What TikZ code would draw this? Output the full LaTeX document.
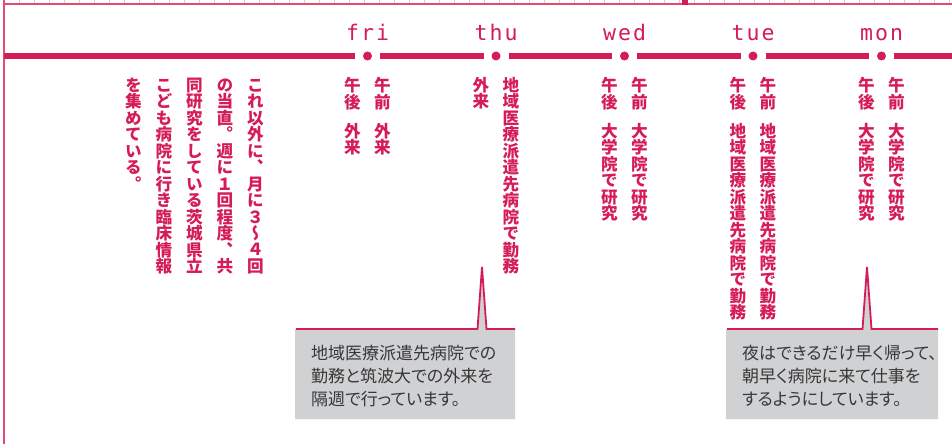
\documentclass[tikz,border=0pt]{standalone}
\usepackage{fontspec}
\newfontfamily\jpv[RawFeature=+vert]{Noto Sans CJK JP}
\newfontfamily\jpp[RawFeature=+palt]{Noto Sans CJK JP}
\newfontfamily\daymono{DejaVu Sans Mono}
\definecolor{accent}{RGB}{214,28,86}
\definecolor{ruler}{RGB}{226,76,114}
\definecolor{tickc}{RGB}{244,192,202}
\definecolor{boxgray}{RGB}{208,209,211}
\definecolor{boxtext}{RGB}{55,55,55}
\ExplSyntaxOn
\dim_new:N \l_vt_pitch_dim
\dim_set:Nn \l_vt_pitch_dim {16.45pt}
\NewDocumentCommand \vcol { m }
  {
    \vbox:n
      {
        \offinterlineskip
        \tl_map_inline:nn {#1}
          {
            \hbox_to_wd:nn { \l_vt_pitch_dim }
              { \hss \vrule~height~0.86\l_vt_pitch_dim~depth~0.14\l_vt_pitch_dim~width~0pt\relax ##1 \hss }
          }
      }
  }
\NewDocumentCommand \mono { m }
  {
    \tl_map_inline:nn {#1} { \hbox_to_wd:nn { 15pt } { \hss ##1 \hss } }
  }
\ExplSyntaxOff
\tikzset{
  mainline/.style={accent, line width=6pt},
  daydot/.style={circle, fill=accent, inner sep=0pt, minimum size=9pt},
  daylabel/.style={anchor=base, inner sep=0pt, text=accent, font=\daymono\fontsize{21.5}{21.5}\selectfont},
  vtext/.style={anchor=north, inner sep=0pt, text=accent, font=\jpv\bfseries\fontsize{16.6}{16.6}\selectfont},
  boxtxt/.style={anchor=north west, inner sep=0pt, align=left, text=boxtext, font=\jpp\fontsize{17}{23}\selectfont},
  callout/.style={boxgray},
  calloutline/.style={accent, line width=1.8pt, line join=miter}
}
\begin{document}
\begin{tikzpicture}[x=1pt,y=-1pt]
\useasboundingbox (0,0) rectangle (952,444);
\fill[white] (0,0) rectangle (952,444);
% top ruler
\foreach \i in {1,...,63} \draw[tickc, line width=0.8pt] (4+15*\i,0) -- (4+15*\i,4);
\draw[ruler, line width=1.6pt] (4,4) -- (952,4);
\fill[accent] (682,0) rectangle (688,4.8);
\draw[ruler, line width=1.6pt] (4,0) -- (4,444);
% time line
\coordinate (start) at (4,56);
\coordinate (end) at (952,56);
\node[daydot] (fri) at (367.5,56) {};
\node[daydot] (thu) at (496,56) {};
\node[daydot] (wed) at (624.5,56) {};
\node[daydot] (tue) at (753,56) {};
\node[daydot] (mon) at (881.5,56) {};
\draw[mainline, shorten >=12.5pt] (start) -- (fri.center);
\draw[mainline, shorten <=12.5pt, shorten >=12.5pt] (fri.center) -- (thu.center);
\draw[mainline, shorten <=12.5pt, shorten >=12.5pt] (thu.center) -- (wed.center);
\draw[mainline, shorten <=12.5pt, shorten >=12.5pt] (wed.center) -- (tue.center);
\draw[mainline, shorten <=12.5pt, shorten >=12.5pt] (tue.center) -- (mon.center);
\draw[mainline, shorten <=12.5pt] (mon.center) -- (end);
\node[daylabel] (lfri) at (367.5,41) {\mono{fri}};
\node[daylabel] (lthu) at (496,41) {\mono{thu}};
\node[daylabel] (lwed) at (624.5,41) {\mono{wed}};
\node[daylabel] (ltue) at (753,41) {\mono{tue}};
\node[daylabel] (lmon) at (881.5,41) {\mono{mon}};
% left paragraph
\node[vtext] (p1) at (255.5,77) {\vcol{これ以外に、月に３〜４回}};
\node[vtext] (p2) at (225,77) {\vcol{の当直。週に１回程度、共}};
\node[vtext] (p3) at (194.5,77) {\vcol{同研究をしている茨城県立}};
\node[vtext] (p4) at (164,77) {\vcol{こども病院に行き臨床情報}};
\node[vtext] (p5) at (133.5,77) {\vcol{を集めている。}};
% fri
\node[vtext] (friam) at (382.5,77) {\vcol{午前}};
\node[vtext] (friamt) at (382.5,123) {\vcol{外来}};
\node[vtext] (fripm) at (352.5,77) {\vcol{午後}};
\node[vtext] (fripmt) at (352.5,123) {\vcol{外来}};
% thu
\node[vtext] (thua) at (511,77) {\vcol{地域医療派遣先病院で勤務}};
\node[vtext] (thub) at (481,77) {\vcol{外来}};
% wed
\node[vtext] (wedam) at (639.5,77) {\vcol{午前}};
\node[vtext] (wedamt) at (639.5,123) {\vcol{大学院で研究}};
\node[vtext] (wedpm) at (609.5,77) {\vcol{午後}};
\node[vtext] (wedpmt) at (609.5,123) {\vcol{大学院で研究}};
% tue
\node[vtext] (tueam) at (768,77) {\vcol{午前}};
\node[vtext] (tueamt) at (768,123) {\vcol{地域医療派遣先病院で勤務}};
\node[vtext] (tuepm) at (738,77) {\vcol{午後}};
\node[vtext] (tuepmt) at (738,123) {\vcol{地域医療派遣先病院で勤務}};
% mon
\node[vtext] (monam) at (896.5,77) {\vcol{午前}};
\node[vtext] (monamt) at (896.5,123) {\vcol{大学院で研究}};
\node[vtext] (monpm) at (866.5,77) {\vcol{午後}};
\node[vtext] (monpmt) at (866.5,123) {\vcol{大学院で研究}};
% callout 1
\coordinate (peak1) at (482,267);
\fill[callout] (295,329) -- (477.5,329) -- (peak1) -- (486.5,329) -- (515,329) -- (515,419) -- (295,419) -- cycle;
\draw[calloutline] (296,329) -- (477.5,329) -- (peak1) -- (486.5,329) -- (515,329);
\node[boxtxt] (note1) at (311,344.5) {地域医療派遣先病院での\\勤務と筑波大での外来を\\隔週で行っています。};
% callout 2
\coordinate (peak2) at (867,267);
\fill[callout] (726,329) -- (862.5,329) -- (peak2) -- (871.5,329) -- (938,329) -- (938,419) -- (726,419) -- cycle;
\draw[calloutline] (727,329) -- (862.5,329) -- (peak2) -- (871.5,329) -- (938,329);
\node[boxtxt] (note2) at (742,344.5) {夜はできるだけ早く帰って、\\朝早く病院に来て仕事を\\するようにしています。};
\end{tikzpicture}
\end{document}
